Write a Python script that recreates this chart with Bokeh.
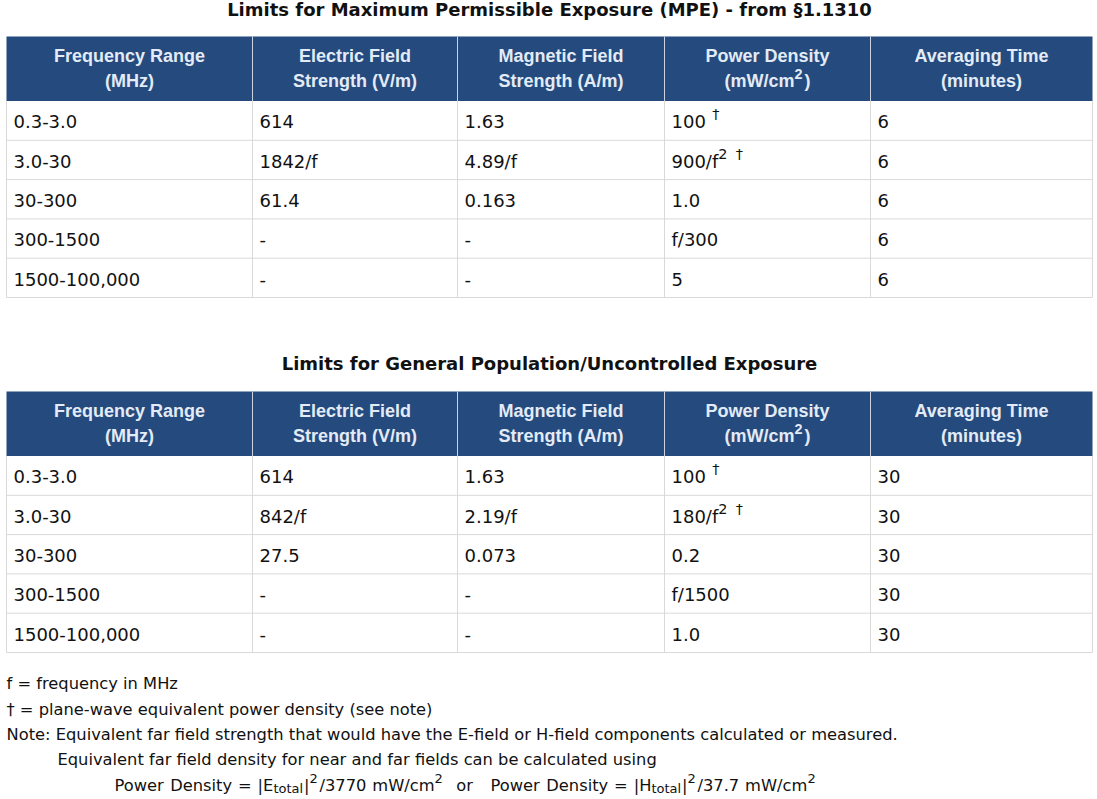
import re
from bokeh.plotting import figure
from bokeh.models import Range1d, ColumnDataSource
from bokeh.core.properties import value
from bokeh.embed import file_html
from bokeh.resources import INLINE

# ---------------- data ----------------
title_mpe = "Limits for Maximum Permissible Exposure (MPE) - from §1.1310"
title_gp = "Limits for General Population/Uncontrolled Exposure"
header_line1 = ["Frequency Range", "Electric Field", "Magnetic Field", "Power Density", "Averaging Time"]
header_line2 = ["(MHz)", "Strength (V/m)", "Strength (A/m)", "(mW/cm^{2})", "(minutes)"]

freq_ranges = ["0.3-3.0", "3.0-30", "30-300", "300-1500", "1500-100,000"]
mpe_e_field = ["614", "1842/f", "61.4", "-", "-"]
mpe_h_field = ["1.63", "4.89/f", "0.163", "-", "-"]
mpe_power = ["100 ^{†}", "900/f^{2} ^{†}", "1.0", "f/300", "5"]
mpe_time = ["6", "6", "6", "6", "6"]

gp_e_field = ["614", "842/f", "27.5", "-", "-"]
gp_h_field = ["1.63", "2.19/f", "0.073", "-", "-"]
gp_power = ["100 ^{†}", "180/f^{2} ^{†}", "0.2", "f/1500", "1.0"]
gp_time = ["30", "30", "30", "30", "30"]

notes = [
    "f = frequency in MHz",
    "† = plane-wave equivalent power density (see note)",
    "Note: Equivalent far field strength that would have the E-field or H-field components calculated or measured.",
    "Equivalent far field density for near and far fields can be calculated using",
    "Power Density = |E_{total}|^{2}/3770 mW/cm^{2}  or   Power Density = |H_{total}|^{2}/37.7 mW/cm^{2}",
]
note_indent = [0, 0, 0, 1, 2]

# ---------------- layout / style ----------------
W, H = 1097, 799
HEADER_BG = "#254a7d"
HEADER_FG = "#e3ebf6"
GRID = "#d9d9d9"
TEXT = "#111111"
BODY_FONT = "DejaVu Sans"
HEAD_FONT = "Liberation Sans"

col_edges = [6, 252, 457, 664, 870, 1092]
tables = [
    dict(title=title_mpe, title_base=16, top=36,
         cols=[freq_ranges, mpe_e_field, mpe_h_field, mpe_power, mpe_time]),
    dict(title=title_gp, title_base=370, top=391,
         cols=[freq_ranges, gp_e_field, gp_h_field, gp_power, gp_time]),
]
HEADER_H = 64.5
ROW_H = 39.3
BASE_SHIFT = 0.4  # (fraction of font size) correction of the rendered baseline

DEJAVU = {' ': .36, '!': .401, '(': .390, ')': .390, ',': .318, '-': .361, '.': .318, '/': .337,
          '=': .838, '|': .337, ':': .337, '†': .500, '§': .500,
          'A': .684, 'B': .686, 'C': .698, 'D': .770, 'E': .632, 'F': .575, 'G': .775, 'H': .752,
          'I': .295, 'M': .863, 'N': .748, 'P': .603, 'R': .695, 'S': .635, 'T': .611, 'W': .989,
          'a': .613, 'b': .635, 'c': .550, 'd': .635, 'e': .615, 'f': .352, 'g': .635, 'h': .634,
          'i': .278, 'j': .278, 'k': .579, 'l': .278, 'm': .974, 'n': .634, 'o': .612, 'p': .635,
          'q': .635, 'r': .411, 's': .521, 't': .392, 'u': .634, 'v': .592, 'w': .818, 'x': .592,
          'y': .592, 'z': .525}
for d in "0123456789":
    DEJAVU[d] = .636
ARIALB = {' ': .278, '(': .333, ')': .333, '/': .278, 'm': .889, 'W': .944, 'c': .556}
for d in "0123456789":
    ARIALB[d] = .556


def text_width(s, table):
    return sum(table.get(ch, 0.6) for ch in s)


groups = {}


def add(key, x, y, t, fs, align):
    g = groups.setdefault(key + (align,), {"x": [], "y": [], "text": [], "fs": []})
    g["x"].append(x)
    g["y"].append(y)
    g["text"].append(t)
    g["fs"].append(f"{fs:.1f}px")


def rich(x, y, markup, key, size, widths, align="left"):
    y = y - BASE_SHIFT * size
    parts = re.split(r'(\^\{[^}]*\}|_\{[^}]*\})', markup)
    segs = []
    for part in parts:
        if not part:
            continue
        if part.startswith('^{'):
            segs.append((part[2:-1], 0.8 * size, -0.42 * size, 0.1 * size))
        elif part.startswith('_{'):
            segs.append((part[2:-1], 0.8 * size, 0.22 * size, 0.05 * size))
        else:
            segs.append((part, size, 0.0, 0.0))
    if len(segs) == 1:
        add(key, x, y, segs[0][0], size, align)
        return
    total = sum(text_width(t, widths) * s + pad for t, s, _, pad in segs)
    cx = x - total / 2 if align == "center" else x
    for t, s, dy, pad in segs:
        # place each word separately so spaces never collapse
        for tok in re.split(r'( +)', t):
            if tok and not tok.isspace():
                add(key, cx, y + dy, tok, s, "left")
            cx += text_width(tok, widths) * s
        cx += pad


p = figure(width=W, height=H, output_backend="svg", toolbar_location=None,
           x_range=Range1d(0, W), y_range=Range1d(H, 0),
           min_border=0, background_fill_color="white", border_fill_color="white")
p.axis.visible = False
p.grid.visible = False
p.outline_line_color = None

for tb in tables:
    top = tb["top"]
    nrows = len(tb["cols"][0])
    bottom = top + HEADER_H + nrows * ROW_H
    # header background
    p.quad(left=[col_edges[0]], right=[col_edges[-1]], top=[top], bottom=[top + HEADER_H],
           fill_color=HEADER_BG, line_color=None)
    # horizontal lines
    ys = [top + HEADER_H + i * ROW_H for i in range(1, nrows + 1)]
    p.segment(x0=[col_edges[0]] * len(ys), x1=[col_edges[-1]] * len(ys), y0=ys, y1=ys,
              line_color=GRID, line_width=1)
    # vertical lines (body)
    p.segment(x0=col_edges, x1=col_edges, y0=[top + HEADER_H] * len(col_edges),
              y1=[bottom] * len(col_edges), line_color=GRID, line_width=1)
    # vertical lines (header)
    p.segment(x0=col_edges[1:-1], x1=col_edges[1:-1], y0=[top] * (len(col_edges) - 2),
              y1=[top + HEADER_H] * (len(col_edges) - 2), line_color="#c9d2de", line_width=1)
    # title
    rich((col_edges[0] + col_edges[-1]) / 2, tb["title_base"], tb["title"],
         ("DejaVu Sans", "bold", TEXT), 18, DEJAVU, "center")
    # header
    for c in range(5):
        cx = (col_edges[c] + col_edges[c + 1]) / 2
        rich(cx, top + 27, header_line1[c], (HEAD_FONT, "bold", HEADER_FG), 18, ARIALB, "center")
        rich(cx, top + 52, header_line2[c], (HEAD_FONT, "bold", HEADER_FG), 18, ARIALB, "center")
    # body
    for c, col in enumerate(tb["cols"]):
        for r, cell in enumerate(col):
            rich(col_edges[c] + 7, top + HEADER_H + r * ROW_H + 28, cell,
                 (BODY_FONT, "normal", TEXT), 18, DEJAVU)

note_base = 690
note_x = [6, 57, 114]
for i, (line, ind) in enumerate(zip(notes, note_indent)):
    rich(note_x[ind], note_base + i * 25.3, line, (BODY_FONT, "normal", TEXT), 16.3, DEJAVU)

for (font, style, color, align), g in groups.items():
    src = ColumnDataSource(g)
    p.text(x="x", y="y", text="text", source=src, text_font=value(font),
           text_font_style=style, text_color=color, text_font_size="fs",
           text_align=align, text_baseline="alphabetic")

open("out.html", "w").write(file_html(p, INLINE))
